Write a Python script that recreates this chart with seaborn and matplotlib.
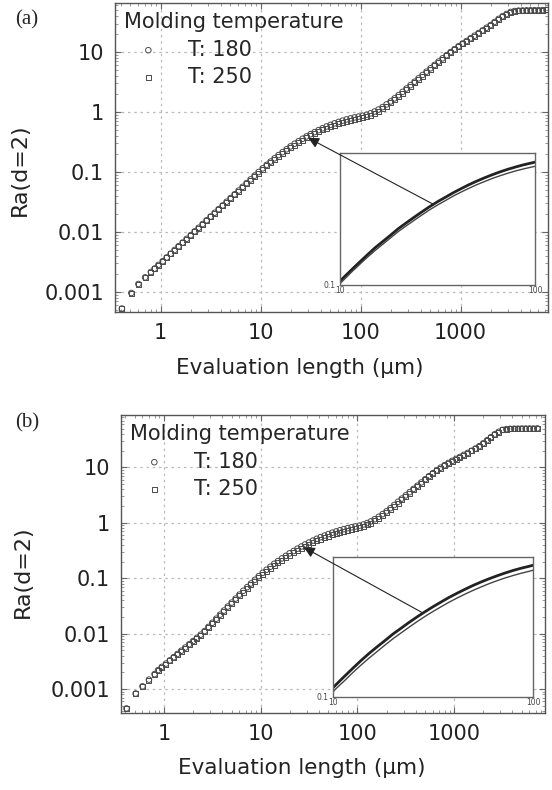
import numpy as np
import pandas as pd
import matplotlib
matplotlib.use("Agg")
import matplotlib.pyplot as plt
import matplotlib.ticker as mticker
import seaborn as sns

# evaluation lengths (um), shared by both panels
eval_len = [0.41, 0.51, 0.60, 0.70, 0.80, 0.87, 0.95, 1.05, 1.15, 1.26, 1.38, 1.51, 1.66, 1.82,
            2.00, 2.19, 2.40, 2.63, 2.88, 3.16, 3.47, 3.80, 4.17, 4.57, 5.01, 5.50, 6.03, 6.61,
            7.24, 7.94, 8.71, 9.55, 10.5, 11.5, 12.6, 13.8, 15.1, 16.6, 18.2, 19.9, 21.9, 24.0,
            26.3, 28.8, 31.6, 34.7, 38.0, 41.7, 45.7, 50.1, 55.0, 60.3, 66.1, 72.4, 79.4, 87.1,
            95.5, 105, 115, 126, 138, 151, 166, 182, 200, 219, 240, 263, 288, 316, 347, 380,
            417, 457, 501, 550, 603, 661, 724, 794, 871, 955, 1047, 1148, 1259, 1380, 1514,
            1660, 1820, 1995, 2188, 2399, 2630, 2884, 3162, 3467, 3802, 4169, 4571, 5012, 5495,
            6026, 6607, 7244]

# panel (a)
ra_180_a = [0.000525, 0.000955, 0.00135, 0.00174, 0.00214, 0.00244, 0.00281, 0.00324, 0.00374,
            0.00432, 0.00498, 0.00574, 0.00662, 0.00764, 0.00881, 0.0102, 0.0117, 0.0135,
            0.0156, 0.0180, 0.0208, 0.0239, 0.0276, 0.0318, 0.0367, 0.0424, 0.0489, 0.0564,
            0.0650, 0.0750, 0.0865, 0.0998, 0.115, 0.131, 0.149, 0.169, 0.191, 0.214, 0.239,
            0.267, 0.296, 0.326, 0.358, 0.392, 0.427, 0.462, 0.499, 0.536, 0.574, 0.611, 0.648,
            0.684, 0.719, 0.752, 0.783, 0.813, 0.839, 0.867, 0.903, 0.953, 1.02, 1.10, 1.21,
            1.34, 1.50, 1.69, 1.91, 2.17, 2.47, 2.81, 3.20, 3.65, 4.15, 4.72, 5.37, 6.11, 6.95,
            7.87, 8.87, 10.0, 11.2, 12.5, 13.9, 15.3, 17.0, 18.8, 20.8, 23.0, 25.5, 28.2, 31.8,
            35.8, 39.6, 43.1, 46.8, 48.4, 49.2, 49.5, 49.8, 49.9, 50.1, 50.1, 50.2, 50.4]
ra_250_a = [0.00052, 0.000945, 0.00134, 0.00172, 0.00212, 0.00242, 0.00278, 0.00321, 0.00370,
            0.00428, 0.00493, 0.00568, 0.00655, 0.00756, 0.00872, 0.0101, 0.0116, 0.0134,
            0.0154, 0.0178, 0.0205, 0.0236, 0.0271, 0.0312, 0.0359, 0.0413, 0.0476, 0.0547,
            0.0630, 0.0724, 0.0834, 0.0959, 0.110, 0.126, 0.143, 0.162, 0.182, 0.204, 0.228,
            0.254, 0.281, 0.309, 0.339, 0.371, 0.403, 0.436, 0.471, 0.505, 0.539, 0.574, 0.607,
            0.641, 0.672, 0.702, 0.731, 0.757, 0.781, 0.806, 0.842, 0.890, 0.953, 1.03, 1.14,
            1.26, 1.42, 1.60, 1.81, 2.06, 2.35, 2.68, 3.06, 3.50, 3.99, 4.55, 5.19, 5.91, 6.74,
            7.65, 8.64, 9.76, 10.9, 12.2, 13.7, 15.1, 16.7, 18.5, 20.5, 22.7, 25.1, 27.8, 31.3,
            35.3, 39.0, 42.5, 46.1, 48.0, 49.0, 49.7, 49.4, 50.2, 49.8, 50.3, 50.0, 50.5]

# panel (b)
ra_180_b = [0.000447, 0.000832, 0.00112, 0.00148, 0.00186, 0.00219, 0.00251, 0.00288, 0.00329,
            0.00376, 0.00430, 0.00491, 0.00561, 0.00641, 0.00733, 0.00838, 0.00957, 0.0111,
            0.0132, 0.0157, 0.0186, 0.0220, 0.0261, 0.0308, 0.0363, 0.0429, 0.0506, 0.0593,
            0.0690, 0.0804, 0.0935, 0.109, 0.125, 0.142, 0.161, 0.182, 0.204, 0.228, 0.253,
            0.281, 0.310, 0.341, 0.373, 0.406, 0.441, 0.477, 0.514, 0.551, 0.588, 0.626, 0.663,
            0.699, 0.734, 0.768, 0.801, 0.831, 0.858, 0.889, 0.931, 0.988, 1.06, 1.16, 1.28,
            1.43, 1.61, 1.83, 2.09, 2.39, 2.73, 3.12, 3.57, 4.08, 4.66, 5.33, 6.09, 6.92, 7.84,
            8.84, 9.87, 10.9, 12.0, 13.1, 14.2, 15.4, 16.8, 18.2, 19.9, 21.8, 24.1, 27.1, 30.8,
            35.0, 39.5, 43.7, 47.5, 48.9, 49.5, 49.8, 49.9, 50.1, 50.1, 50.2, 50.1, 50.4]
ra_250_b = [0.000438, 0.000815, 0.00110, 0.00145, 0.00182, 0.00215, 0.00246, 0.00282, 0.00322,
            0.00368, 0.00421, 0.00481, 0.00550, 0.00628, 0.00718, 0.00821, 0.00938, 0.0109,
            0.0130, 0.0154, 0.0181, 0.0214, 0.0252, 0.0297, 0.0349, 0.0410, 0.0482, 0.0562,
            0.0652, 0.0755, 0.0876, 0.102, 0.117, 0.132, 0.150, 0.169, 0.189, 0.211, 0.235,
            0.260, 0.287, 0.315, 0.345, 0.376, 0.408, 0.441, 0.475, 0.509, 0.543, 0.577, 0.611,
            0.645, 0.677, 0.708, 0.737, 0.765, 0.790, 0.819, 0.861, 0.917, 0.990, 1.08, 1.20,
            1.35, 1.52, 1.73, 1.98, 2.27, 2.61, 2.99, 3.43, 3.93, 4.51, 5.17, 5.92, 6.74, 7.65,
            8.64, 9.67, 10.7, 11.8, 12.9, 14.0, 15.3, 16.6, 18.1, 19.8, 21.8, 24.1, 26.9, 30.5,
            34.8, 39.2, 43.4, 47.2, 48.6, 49.3, 49.6, 50.0, 49.7, 50.3, 49.9, 50.4, 50.2]

x_ticks = [1, 10, 100, 1000]
x_labels = ["1", "10", "100", "1000"]
y_ticks = [0.001, 0.01, 0.1, 1, 10]
y_labels = ["0.001", "0.01", "0.1", "1", "10"]

sns.set_style("ticks")
plt.rcParams["font.family"] = ["DejaVu Sans"]

fig = plt.figure(figsize=(5.52, 7.90), dpi=100)

W, H = 552, 790


def px_axes(l, t, r, b):
    return [l / W, 1 - b / H, (r - l) / W, (b - t) / H]


panels = [
    dict(tag="(a)", box=(115, 3, 548, 312), inset=(340, 153, 535, 285),
         y180=ra_180_a, y250=ra_250_a, arrow=(30, 0.37), arrow_in=(30, 0.41),
         xlim=(0.35, 7500), ylim=(0.00046, 66), tag_y=20, ylab=(-0.196, 0.46)),
    dict(tag="(b)", box=(121, 415, 545, 713), inset=(333, 557, 533, 697),
         y180=ra_180_b, y250=ra_250_b, arrow=(28, 0.36), arrow_in=(28, 0.40),
         xlim=(0.36, 8700), ylim=(0.00037, 88), tag_y=423, ylab=(-0.208, 0.473)),
]

for p in panels:
    ax = fig.add_axes(px_axes(*p["box"]))
    sns.scatterplot(x=eval_len, y=p["y180"], ax=ax, marker="o", s=16, color="#4a4a4a",
                    facecolor="none", edgecolor="#4a4a4a", linewidth=0.7, label="T: 180")
    sns.scatterplot(x=eval_len, y=p["y250"], ax=ax, marker="s", s=13, color="#4a4a4a",
                    facecolor="none", edgecolor="#4a4a4a", linewidth=0.7, label="T: 250")
    ax.set_xscale("log")
    ax.set_yscale("log")
    ax.set_xlim(*p["xlim"])
    ax.set_ylim(*p["ylim"])
    ax.xaxis.set_major_locator(mticker.FixedLocator(x_ticks))
    ax.xaxis.set_major_formatter(mticker.FixedFormatter(x_labels))
    ax.yaxis.set_major_locator(mticker.FixedLocator(y_ticks))
    ax.yaxis.set_major_formatter(mticker.FixedFormatter(y_labels))
    ax.xaxis.set_minor_formatter(mticker.NullFormatter())
    ax.yaxis.set_minor_formatter(mticker.NullFormatter())
    ax.tick_params(which="major", direction="in", length=4, width=0.8, color="#666666",
                   labelsize=15, labelcolor="#222222", top=True, right=True)
    ax.tick_params(axis="x", which="major", pad=8)
    ax.tick_params(axis="y", which="major", pad=8)
    ax.tick_params(which="minor", direction="in", length=2, width=0.6, color="#888888",
                   top=True, right=True)
    ax.grid(True, which="major", linestyle=(0, (2, 3)), color="#bbbbbb", linewidth=0.9)
    for sp in ax.spines.values():
        sp.set_color("#555555")
        sp.set_linewidth(1.0)
    ax.set_xlabel("Evaluation length (µm)", fontsize=15.5, color="#222222")
    ax.set_ylabel("Ra(d=2)", fontsize=16, color="#222222")
    ax.xaxis.set_label_coords(0.427, -0.15)
    ax.yaxis.set_label_coords(*p["ylab"])

    leg = ax.legend(title="Molding temperature", loc="upper left", frameon=False,
                    fontsize=15, title_fontsize=15, handletextpad=0.75, borderaxespad=0.1,
                    borderpad=0.35, labelspacing=0.35, handlelength=2.3, markerscale=1.0)
    leg._legend_box.align = "left"

    fig.text(15 / W, 1 - p["tag_y"] / H, p["tag"], fontsize=15, va="center",
             family="Liberation Serif")

    # magnified inset
    ins = fig.add_axes(px_axes(*p["inset"]))
    ins.set_facecolor("white")
    sns.lineplot(x=eval_len, y=p["y180"], ax=ins, color="#222222", linewidth=2.0, estimator=None)
    sns.lineplot(x=eval_len, y=p["y250"], ax=ins, color="#444444", linewidth=1.0,
                 estimator=None)
    ins.set_xscale("log")
    ins.set_yscale("log")
    ins.set_xlim(10, 100)
    ins.set_ylim(0.1, 1)
    ins.xaxis.set_major_locator(mticker.FixedLocator([10, 100]))
    ins.xaxis.set_major_formatter(mticker.FixedFormatter(["10", "100"]))
    ins.yaxis.set_major_locator(mticker.FixedLocator([0.1]))
    ins.yaxis.set_major_formatter(mticker.FixedFormatter(["0.1"]))
    ins.xaxis.set_minor_locator(mticker.NullLocator())
    ins.yaxis.set_minor_locator(mticker.NullLocator())
    ins.tick_params(length=0, labelsize=5.5, colors="#444444")
    ins.tick_params(axis="x", pad=1)
    ins.tick_params(axis="y", pad=3)
    ins.set_xlabel("")
    ins.set_ylabel("")
    for sp in ins.spines.values():
        sp.set_visible(True)
        sp.set_color("#666666")
        sp.set_linewidth(1.0)

    ins.annotate("", xy=p["arrow"], xycoords=ax.transData, xytext=p["arrow_in"],
                 textcoords="data", annotation_clip=False,
                 arrowprops=dict(arrowstyle="-|>", color="#222222", lw=0.8,
                                 mutation_scale=16, shrinkA=0, shrinkB=0))

fig.savefig("out.png", dpi=100)
